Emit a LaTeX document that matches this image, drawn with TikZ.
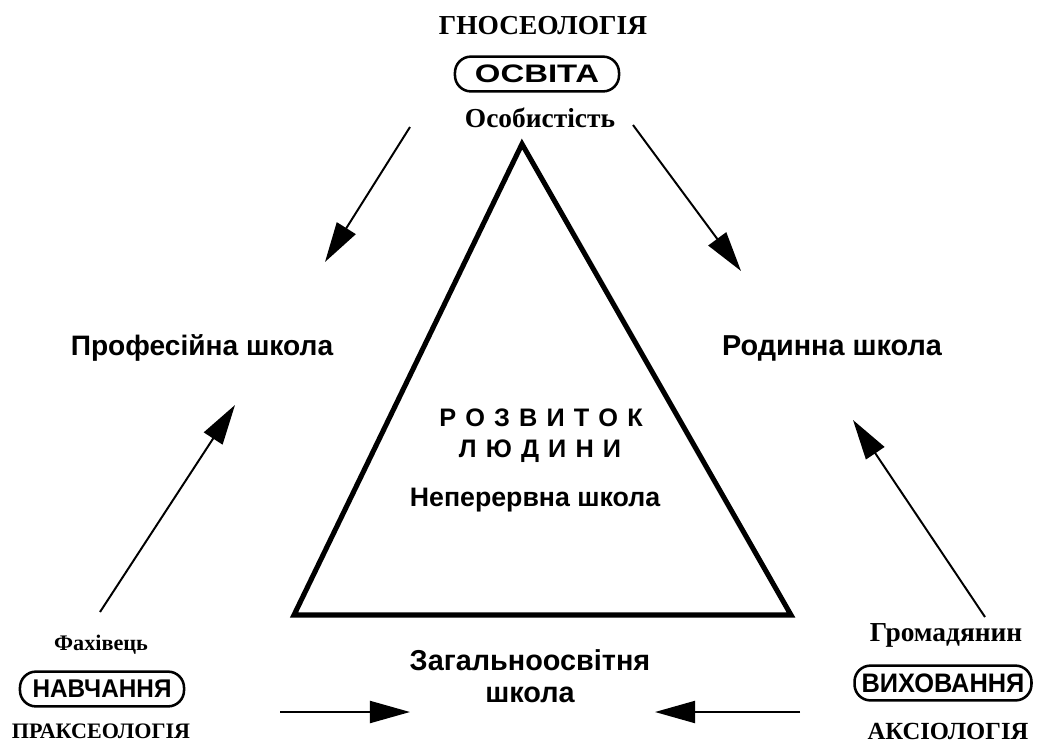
\documentclass[tikz,border=0pt]{standalone}
\usepackage{fontspec}
\setmainfont{Liberation Serif}
\setsansfont{Liberation Sans}
\newfontfamily\widesans[FakeStretch=1.3]{Liberation Sans}
\newfontfamily\narrowsans[FakeStretch=0.95]{Liberation Sans}
\usetikzlibrary{positioning,arrows.meta}

\newcommand{\fs}[1]{\fontsize{#1}{#1}\selectfont}

\begin{document}
\begin{tikzpicture}[
  x=0.025cm, y=-0.025cm,
  sphere/.style={draw,line width=1.8pt,rounded corners=0.4cm,inner xsep=5pt,inner ysep=0pt,
    minimum width=4.1cm,minimum height=0.87cm,font=\sffamily\bfseries},
  field/.style={font=\bfseries},
  person/.style={font=\bfseries},
  school/.style={font=\sffamily\bfseries,align=center},
  flow/.style={->,line width=1.4pt,>={Triangle[length=1cm,width=0.55cm]}},
  ]
  \useasboundingbox (0,0) rectangle (1060,744);
  % триада
  \node[sphere,font=\widesans\bfseries\fs{18}] (osvita) at (537,74) {ОСВІТА};
  \node[field,font=\bfseries\fs{19.5}] (gnoseo) at (543,26) {ГНОСЕОЛОГІЯ};
  \node[person,font=\bfseries\fs{19.5}] (osob) at (540,118) {Особистість};
  \node[sphere,font=\narrowsans\bfseries\fs{18.2}] (navch) at (102,689) {НАВЧАННЯ};
  \node[person,font=\bfseries\fs{15.8}] (fakh) at (101,645) {Фахівець};
  \node[field,font=\bfseries\fs{15.7}] (prakseo) at (101,731) {ПРАКСЕОЛОГІЯ};
  \node[sphere,font=\narrowsans\bfseries\fs{19}] (vykh) at (943,683) {ВИХОВАННЯ};
  \node[person,font=\bfseries\fs{19.5}] (hrom) at (946,635) {Громадянин};
  \node[field,font=\bfseries\fs{17.5}] (aksio) at (948,731) {АКСІОЛОГІЯ};
  % трикутник
  \coordinate (apex) at (522,144);
  \coordinate (left) at (294,615);
  \coordinate (right) at (791,615);
  \draw[line width=3.6pt,line join=miter] (apex) -- (left) -- (right) -- cycle;
  \node[school,font=\sffamily\bfseries\fs{18}] (rozv) at (541,418)
    {Р\hspace{6.5pt}О\hspace{6.5pt}З\hspace{6.5pt}В\hspace{6.5pt}И\hspace{6.5pt}Т\hspace{6.5pt}О\hspace{6.5pt}К};
  \node[school,font=\sffamily\bfseries\fs{18}] (lyud) at (540,451)
    {Л\hspace{6.5pt}Ю\hspace{6.5pt}Д\hspace{6.5pt}И\hspace{6.5pt}Н\hspace{6.5pt}И};
  \node[school,font=\sffamily\bfseries\fs{19}] (nepere) at (535,500) {Неперервна школа};
  % школи
  \node[school,font=\sffamily\bfseries\fs{20}] (prof) at (202,348) {Професійна школа};
  \node[school,font=\sffamily\bfseries\fs{20.5}] (rodyn) at (832,348) {Родинна школа};
  \node[school,font=\sffamily\bfseries\fontsize{20.5}{23}\selectfont] (zahal) at (530,676) {Загальноосвітня\\школа};
  % стрілки
  \coordinate (a1) at (410,127); \coordinate (b1) at (325,262);
  \coordinate (a2) at (633,125); \coordinate (b2) at (741,271);
  \coordinate (a3) at (100,612); \coordinate (b3) at (235,405);
  \coordinate (a4) at (985,617); \coordinate (b4) at (853,420);
  \coordinate (a5) at (280,712); \coordinate (b5) at (410,712);
  \coordinate (a6) at (800,712); \coordinate (b6) at (655,712);
  \draw[flow] (a1) -- (b1);
  \draw[flow] (a2) -- (b2);
  \draw[flow] (a3) -- (b3);
  \draw[flow] (a4) -- (b4);
  \draw[flow] (a5) -- (b5);
  \draw[flow] (a6) -- (b6);
\end{tikzpicture}
\end{document}
